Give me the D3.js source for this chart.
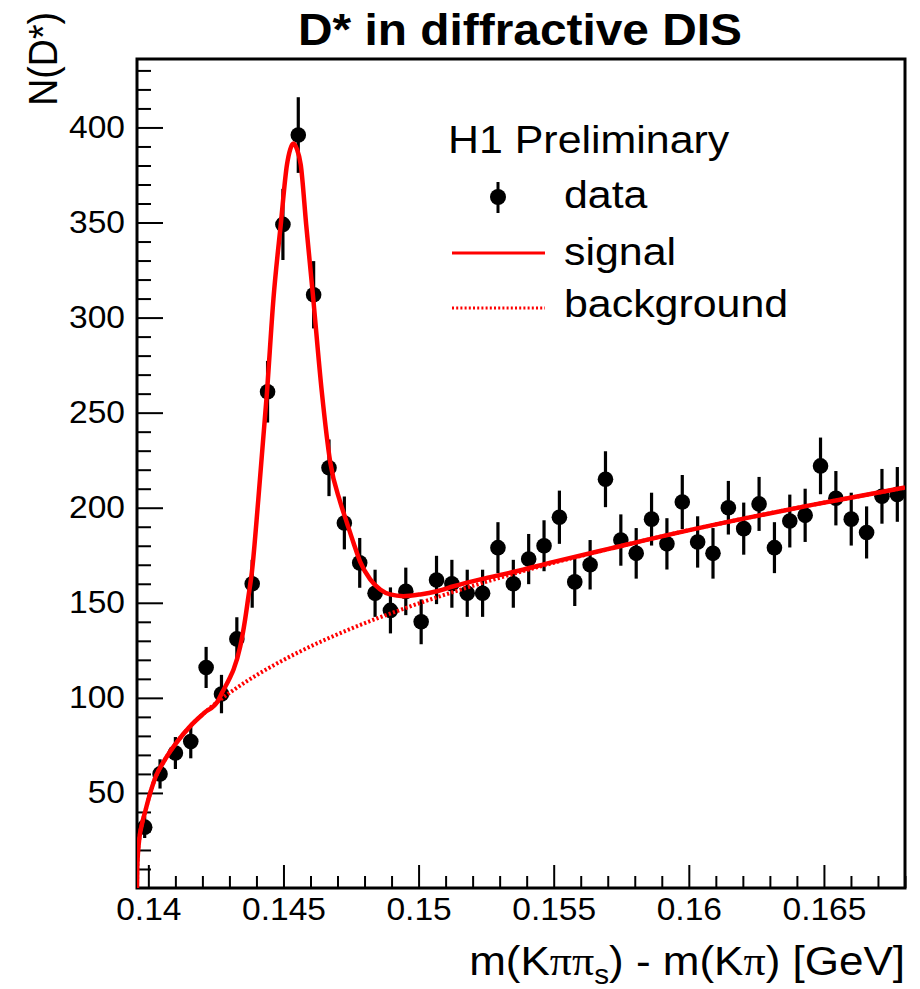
<!DOCTYPE html>
<html>
<head>
<meta charset="utf-8">
<script src="https://cdn.jsdelivr.net/npm/d3@7"></script>
<style>
  body { margin: 0; background: #fff; }
  text { font-family: "Liberation Sans", Arial, Helvetica, sans-serif; fill: #000; }
</style>
</head>
<body>
<svg id="chart" width="920" height="989"></svg>
<script>
// ---- histogram: D* candidates per bin of delta-m ----
const binRange = [0.13958, 0.168];
const nBins = 50;
const counts = [
  32, 60, 71, 77, 116, 102, 131, 160, 261, 349,
  396, 312, 221, 192, 171, 155, 146, 156, 140, 162,
  160, 155, 155, 179, 160, 173, 180, 195, 161, 170,
  215, 183, 176, 194, 181, 203, 182, 176, 200, 189,
  202, 179, 193, 196, 222, 205, 194, 187, 206, 207
];
const errors = [
  5.7, 7.7, 8.4, 8.8, 10.8, 10.1, 11.4, 12.6, 16.2, 18.7,
  19.9, 17.7, 14.9, 13.9, 13.1, 12.4, 12.1, 12.5, 11.8, 12.7,
  12.6, 12.4, 12.4, 13.4, 12.6, 13.2, 13.4, 14.0, 12.7, 13.0,
  14.7, 13.5, 13.3, 13.9, 13.5, 14.2, 13.5, 13.3, 14.1, 13.7,
  14.2, 13.4, 13.9, 14.0, 14.9, 14.3, 13.9, 13.7, 14.4, 14.4
];

// ---- fit curves (sampled) ----
const signalX = [
  0.13958, 0.13959, 0.13961, 0.13967, 0.13977, 0.13987, 0.14007, 0.14027, 0.14057, 0.14107,
  0.14157, 0.14207, 0.14257, 0.14272, 0.14303, 0.14315, 0.14340, 0.14358, 0.14370, 0.14383,
  0.14407, 0.14439, 0.14463, 0.14490, 0.14513, 0.14525, 0.14537, 0.14550, 0.14564, 0.14584,
  0.14609, 0.14642, 0.14673, 0.14710, 0.14735, 0.14759, 0.14784, 0.14821, 0.14858, 0.14895,
  0.14944, 0.15006, 0.15068, 0.15130, 0.15229, 0.15350, 0.15500, 0.15707, 0.15957, 0.16207,
  0.16457, 0.16707, 0.16800
];
const signalY = [
  0, 11, 17, 26.5, 34, 39.5, 50, 58.5, 66.5, 77,
  85.4, 92.1, 98.3, 102.5, 111, 114.8, 127, 141.2, 153, 166,
  204.5, 260.8, 310, 349, 380.4, 388.5, 391.5, 388.5, 380.4, 349,
  311.8, 260.8, 224, 203, 192, 181.6, 171.5, 162.3, 157, 154.4,
  153.5, 154.4, 156.1, 158.7, 162.3, 166.2, 171.5, 178.5, 186.8, 194.4,
  201.5, 208.1, 210.6
];
const backgroundX = [
  0.13958, 0.13959, 0.13961, 0.13967, 0.13977, 0.13987, 0.14007, 0.14027, 0.14057, 0.14107,
  0.14157, 0.14207, 0.14257, 0.14357, 0.14457, 0.14557, 0.14757, 0.14957, 0.15207, 0.15457,
  0.15707, 0.15957, 0.16207, 0.16457, 0.16707, 0.16800
];
const backgroundY = [
  0, 11, 17, 26.5, 34, 39.5, 50, 58.5, 66.5, 77,
  85.4, 92.1, 98.0, 108.1, 116.6, 124.1, 136.8, 147.5, 159.2, 169.4,
  178.4, 186.8, 194.4, 201.5, 208.1, 210.6
];

// ---- axes ----
const xMajorTicks = [0.14, 0.145, 0.15, 0.155, 0.16, 0.165];
const xTickLabels = ["0.14", "0.145", "0.15", "0.155", "0.16", "0.165"];
const xMinorStep = 0.001;
const yMajorTicks = [50, 100, 150, 200, 250, 300, 350, 400];
const yMinorStep = 10;
const yMax = 436;

const titleText = "D* in diffractive DIS";
const yTitle = "N(D*)";
const legendHeader = "H1 Preliminary";
const legendLabels = ["data", "signal", "background"];

// ---- layout ----
const frame = { left: 137, right: 905, top: 59, bottom: 888 };
const stretch = 1.1;           // text is drawn slightly wide
const red = "#ff0000";

const svg = d3.select("#chart");

const x = d3.scaleLinear().domain(binRange).range([frame.left, frame.right]);
const y = d3.scaleLinear().domain([0, yMax]).range([frame.bottom, frame.top]);

const binW = (binRange[1] - binRange[0]) / nBins;
const points = counts.map((c, i) => ({
  x: binRange[0] + (i + 0.5) * binW,
  y: c,
  e: errors[i]
}));

// minor tick positions
const xMinor = d3.range(Math.round(0.14 / xMinorStep), Math.floor(binRange[1] / xMinorStep + 1e-6) + 1)
  .map(k => +(k * xMinorStep).toFixed(4))
  .filter(v => !xMajorTicks.some(t => Math.abs(t - v) < 1e-9));
const yMinor = d3.range(yMinorStep, yMax, yMinorStep)
  .filter(v => v % 50 !== 0);

// x axis (ticks pointing into the frame)
const gx = svg.append("g").attr("transform", `translate(0,${frame.bottom})`);
gx.append("g")
  .call(d3.axisBottom(x).tickValues(xMinor).tickSizeInner(-12).tickSizeOuter(0).tickFormat(""))
  .call(g => g.select(".domain").remove());
gx.append("g")
  .call(d3.axisBottom(x).tickValues(xMajorTicks).tickSizeInner(-23).tickSizeOuter(0)
    .tickPadding(10).tickFormat((d, i) => xTickLabels[i]))
  .call(g => g.select(".domain").remove())
  .call(g => g.selectAll("text").attr("font-size", 30.5).attr("transform", `scale(${stretch},1)`));
gx.selectAll("line").attr("stroke", "#000").attr("stroke-width", 2);

// y axis
const gy = svg.append("g").attr("transform", `translate(${frame.left},0)`);
gy.append("g")
  .call(d3.axisLeft(y).tickValues(yMinor).tickSizeInner(-14).tickSizeOuter(0).tickFormat(""))
  .call(g => g.select(".domain").remove());
gy.append("g")
  .call(d3.axisLeft(y).tickValues(yMajorTicks).tickSizeInner(-26).tickSizeOuter(0)
    .tickPadding(12).tickFormat(d3.format("d")))
  .call(g => g.select(".domain").remove())
  .call(g => g.selectAll("text").attr("font-size", 30.5)
    .attr("x", -12 / stretch).attr("transform", `scale(${stretch},1)`));
gy.selectAll("line").attr("stroke", "#000").attr("stroke-width", 2);

// frame
svg.append("rect")
  .attr("x", frame.left).attr("y", frame.top)
  .attr("width", frame.right - frame.left).attr("height", frame.bottom - frame.top)
  .attr("fill", "none").attr("stroke", "#000").attr("stroke-width", 3);

// data: error bars + markers
const gData = svg.append("g");
gData.selectAll("line.err").data(points).join("line")
  .attr("class", "err")
  .attr("x1", d => x(d.x)).attr("x2", d => x(d.x))
  .attr("y1", d => y(d.y - d.e)).attr("y2", d => y(d.y + d.e))
  .attr("stroke", "#000").attr("stroke-width", 3.2);
gData.selectAll("circle").data(points).join("circle")
  .attr("cx", d => x(d.x)).attr("cy", d => y(d.y)).attr("r", 7.8)
  .attr("fill", "#000");

// fit curves
svg.append("clipPath").attr("id", "plotArea").append("rect")
  .attr("x", frame.left).attr("y", frame.top)
  .attr("width", frame.right - frame.left).attr("height", frame.bottom - frame.top);

const line = d3.line().x(d => x(d[0])).y(d => y(d[1])).curve(d3.curveMonotoneX);

svg.append("path")
  .datum(d3.zip(backgroundX, backgroundY))
  .attr("clip-path", "url(#plotArea)")
  .attr("d", line)
  .attr("fill", "none").attr("stroke", red).attr("stroke-width", 4)
  .attr("stroke-dasharray", "2.2,2.2");

svg.append("path")
  .datum(d3.zip(signalX, signalY))
  .attr("clip-path", "url(#plotArea)")
  .attr("d", line)
  .attr("fill", "none").attr("stroke", red).attr("stroke-width", 4.5)
  .attr("stroke-linejoin", "round");

// helper for horizontally widened text
function wideText(px, py, str, size, opts = {}) {
  const t = svg.append("text")
    .attr("transform", `translate(${px},${py}) scale(${stretch},1)` + (opts.rotate ? ` rotate(${opts.rotate})` : ""))
    .attr("font-size", size)
    .attr("text-anchor", opts.anchor || "start");
  if (opts.bold) t.attr("font-weight", "bold");
  if (str !== null) t.text(str);
  return t;
}

// title
wideText(520, 45, titleText, 43.5, { anchor: "middle", bold: true });

// y title
wideText(57, 12, yTitle, 37.5, { anchor: "end", rotate: -90 });

// x title with Greek letters and subscript
const xt = wideText(905, 975, null, 40, { anchor: "end" });
xt.append("tspan").text("m(K");
xt.append("tspan").attr("font-family", "'Liberation Serif', 'DejaVu Serif', serif").text("ππ");
xt.append("tspan").attr("font-size", 27).attr("dy", 9).text("s");
xt.append("tspan").attr("dy", -9).text(") - m(K");
xt.append("tspan").attr("font-family", "'Liberation Serif', 'DejaVu Serif', serif").text("π");
xt.append("tspan").text(") [GeV]");

// legend
wideText(448, 153, legendHeader, 39);
const legY = [208, 265, 317];
svg.append("line").attr("x1", 498).attr("x2", 498).attr("y1", 182).attr("y2", 213)
  .attr("stroke", "#000").attr("stroke-width", 3);
svg.append("circle").attr("cx", 498).attr("cy", 197).attr("r", 8).attr("fill", "#000");
svg.append("line").attr("x1", 452).attr("x2", 545).attr("y1", 253).attr("y2", 253)
  .attr("stroke", red).attr("stroke-width", 3);
svg.append("line").attr("x1", 452).attr("x2", 545).attr("y1", 308).attr("y2", 308)
  .attr("stroke", red).attr("stroke-width", 3).attr("stroke-dasharray", "2,2.2");
legendLabels.forEach((lab, i) => wideText(564, legY[i], lab, 39));
</script>
</body>
</html>
